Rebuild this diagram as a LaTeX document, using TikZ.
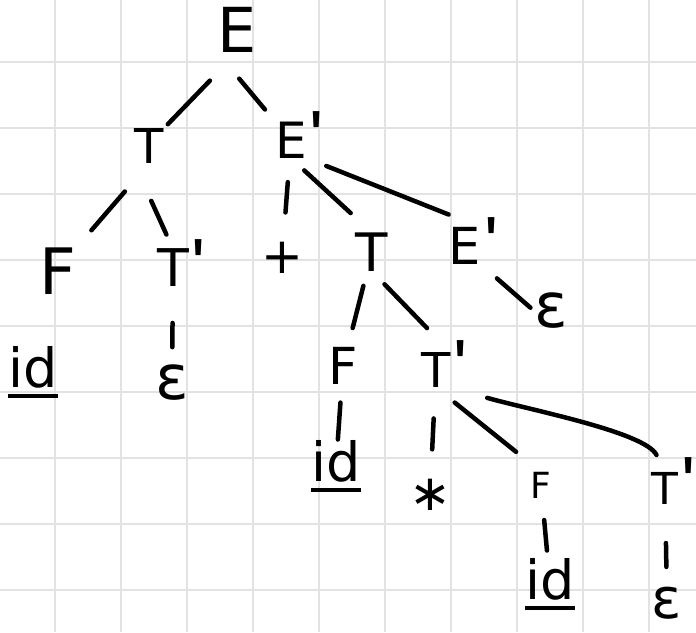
\documentclass[tikz,border=0pt]{standalone}
\usepackage{fontspec}
\setmainfont{DejaVu Sans}
\newfontfamily\tickfont{Liberation Sans}
\usepackage{tikz}
\definecolor{ink}{HTML}{000000}
\definecolor{gridgray}{HTML}{E2E2E2}
\newcommand{\fs}[1]{\fontsize{#1}{#1}\selectfont}
\newcommand{\pr}{\smash{\rlap{\kern3pt\raisebox{-4pt}{\tickfont\fs{74}\textquotesingle}}}}
\newcommand{\idu}{\setbox0\hbox{id}\rlap{\rule[-10pt]{\wd0}{4pt}}\box0}
\tikzset{
  sym/.style={inner sep=0pt,outer sep=0pt,text=ink,font=\fs{50}},
  edge/.style={ink,line width=4.5pt,line cap=round},
  gridline/.style={gridgray,line width=1.8pt}}

\begin{document}
\begin{tikzpicture}[x=1pt,y=-1pt]
  \useasboundingbox (0,0) rectangle (696,632);
  \fill[white] (0,0) rectangle (696,632);
  \foreach \x in {55,121,...,649} \draw[gridline] (\x,0) -- (\x,632);
  \foreach \y in {62,128,...,590} \draw[gridline] (0,\y) -- (696,\y);
  % tree
  \node[sym,font=\fs{62}] (e0) at (237,30) {E};
  \node[sym,font=\fs{48}] (t1) at (149,146) {T};
  \node[sym] (e1) at (291,140) {E\pr};
  \node[sym,font=\fs{64}] (f2) at (58,271) {F};
  \node[sym,font=\fs{52}] (t2) at (173,268) {T\pr};
  \node[sym] (plus) at (282,258) {+};
  \node[sym,font=\fs{53}] (t3) at (372,252) {T};
  \node[sym,font=\fs{51}] (e3) at (465,246) {E\pr};
  \node[sym,font=\fs{62}] (eps1) at (551,311) {ε};
  \node[sym,font=\fs{54}] (id1) at (33,372) {\idu};
  \node[sym,font=\fs{62}] (eps2) at (172,383) {ε};
  \node[sym,font=\fs{51}] (f4) at (343,366) {F};
  \node[sym,font=\fs{48}] (t4) at (436,370) {T\pr};
  \node[sym,font=\fs{54}] (id2) at (336,466) {\idu};
  \node[sym] (star) at (430,495) {∗};
  \node[sym,font=\fs{36}] (f5) at (541,485) {F};
  \node[sym,font=\fs{44}] (t5) at (665,488) {T\pr};
  \node[sym,font=\fs{54}] (id3) at (550,584) {\idu};
  \node[sym,font=\fs{56}] (eps3) at (667,603) {ε};
  % branches
  \draw[edge,shorten <=39pt,shorten >=6pt] (e0.south) -- (t1.north east);
  \draw[edge,shorten <=34pt,shorten >=16pt] (e0.south west) -- (e1.north west);
  \draw[edge,shorten <=37pt,shorten >=23pt] (t1.south) -- (f2.north east);
  \draw[edge,shorten <=41pt,shorten >=16pt] (t1.south west) -- (t2.north);
  \draw[edge,shorten <=24pt,shorten >=30pt] (e1) -- (plus);
  \draw[edge,shorten <=18pt,shorten >=29pt] (e1.south) -- (t3.north);
  \draw[edge,shorten <=21pt,shorten >=35pt] (e1.south east) -- (e3.north east);
  \draw[edge,shorten <=36pt,shorten >=18pt] (t2) -- (eps2);
  \draw[edge,shorten <=15pt,shorten >=20pt] (t3) -- (f4);
  \draw[edge,shorten <=18pt,shorten >=34pt] (t3.south) -- (t4.north east);
  \draw[edge,shorten <=21pt,shorten >=5pt] (e3.south east) -- (eps1.west);
  \draw[edge,shorten <=18pt,shorten >=1pt] (f4) -- (id2);
  \draw[edge,shorten <=31pt,shorten >=30pt] (t4) -- (star);
  \draw[edge,shorten <=24pt,shorten >=32pt] (t4.south) -- (f5.north);
  \draw[edge,shorten <=38pt,shorten >=19pt] (t4.south east) .. controls (530,410) and (645,432) .. (t5.north);
  \draw[edge,shorten <=22pt,shorten >=8pt] (f5) -- (id3);
  \draw[edge,shorten <=39pt,shorten >=20pt] (t5) -- (eps3);
\end{tikzpicture}
\end{document}
